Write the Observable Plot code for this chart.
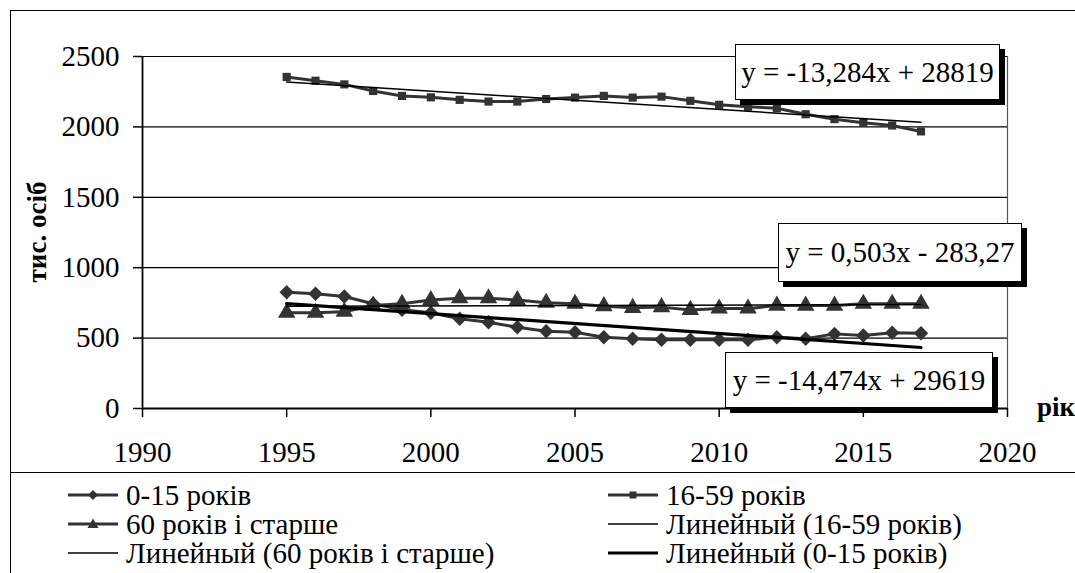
<!DOCTYPE html>
<html><head><meta charset="utf-8">
<script src="https://cdn.jsdelivr.net/npm/d3@7"></script>
<script src="https://cdn.jsdelivr.net/npm/@observablehq/plot@0.6"></script>
<style>
html,body{margin:0;padding:0;background:#fff;}
body{width:1075px;height:573px;overflow:hidden;position:relative;font-family:"Liberation Serif","Times New Roman",Tinos,"DejaVu Serif",Times,serif;color:#000;}
#frame{position:absolute;left:10px;top:10px;width:1200px;height:700px;border:1.5px solid #000;box-sizing:border-box;}
#sep{position:absolute;left:10px;top:472px;width:1100px;height:0;border-top:1.5px solid #000;}
#chart{position:absolute;left:0;top:0;}
#chart svg text{font-family:"Liberation Serif","Times New Roman",Tinos,"DejaVu Serif",Times,serif !important;}
.eq{position:absolute;background:#fff;border:1.5px solid #000;box-shadow:5px 5px 0 #000;font-size:29px;line-height:1;display:flex;align-items:center;justify-content:center;white-space:nowrap;box-sizing:border-box;}
.ylab{position:absolute;left:37px;top:232px;transform:translate(-50%,-50%) rotate(-90deg);font-weight:bold;font-size:27px;white-space:nowrap;}
.xlab{position:absolute;left:1037px;top:392px;font-weight:bold;font-size:27px;white-space:nowrap;}
.leg{position:absolute;display:flex;align-items:center;font-size:29px;line-height:1;white-space:nowrap;}
.leg svg{margin-right:8px;}
</style>
</head><body>
<div id="frame"></div>
<div id="sep"></div>
<div id="chart"></div>
<div class="ylab">тис. осіб</div>
<div class="xlab">рік</div>
<div id="legend"></div>
<div id="eqs"></div>
<script>
const years = [1995,1996,1997,1998,1999,2000,2001,2002,2003,2004,2005,2006,2007,2008,2009,2010,2011,2012,2013,2014,2015,2016,2017];
const age0_15 = [826,815,795,744,701,680,637,613,577,549,542,506,495,488,488,488,488,506,495,530,518,538,535];
const age16_59 = [2355,2328,2302,2255,2220,2210,2192,2180,2180,2198,2208,2220,2208,2215,2185,2157,2143,2133,2090,2055,2030,2010,1968];
const age60plus = [680,680,687,731,744,770,783,783,770,751,744,727,715,720,700,710,710,731,731,731,744,744,744];
const seriesNames = ["0-15 років","16-59 років","60 років і старше"];
const yTicks = [0,500,1000,1500,2000,2500];
const xTicks = [1990,1995,2000,2005,2010,2015,2020];
const equations = ["y = -13,284x + 28819","y = 0,503x - 283,27","y = -14,474x + 29619"];
const legendLabels = ["0-15 років","16-59 років","60 років і старше","Линейный (16-59 років)","Линейный (60 років і старше)","Линейный (0-15 років)"];

const seriesValues = [age0_15, age16_59, age60plus];
const table = [];
seriesNames.forEach((s,i)=>years.forEach((y,j)=>table.push({series:s, year:y, value:seriesValues[i][j]})));

const serif = "'Liberation Serif','Times New Roman',Tinos,'DejaVu Serif',Times,serif";
const lineColor = "#333";
const symbols = {"0-15 років":"diamond2","16-59 років":"square","60 років і старше":"triangle"};
const sizes = {"0-15 років":6.5,"16-59 років":4.6,"60 років і старше":6.5};

const marks = [
  Plot.ruleY(yTicks.slice(1), {stroke:"#000", strokeWidth:1.2}),
  Plot.ruleX([2020], {stroke:"#555", strokeWidth:1.2}),
  Plot.axisY({ticks:yTicks, tickSize:9, tickPadding:14, tickFormat:d=>String(d), label:null, fontSize:29, fontFamily:serif, strokeWidth:1.5}),
  Plot.axisX({ticks:xTicks, tickSize:9, tickPadding:24, tickFormat:d=>String(d), label:null, fontSize:29, fontFamily:serif, strokeWidth:1.5}),
  Plot.ruleX([1990], {stroke:"#000", strokeWidth:1.8}),
  Plot.ruleY([0], {stroke:"#000", strokeWidth:1.8}),
];
seriesNames.forEach(s=>{
  marks.push(Plot.line(table, {filter:d=>d.series===s, x:"year", y:"value", stroke:lineColor, strokeWidth:3}));
});
seriesNames.forEach(s=>{
  marks.push(Plot.dot(table, {filter:d=>d.series===s, x:"year", y:"value", symbol:()=>symbols[s], fill:lineColor, stroke:"none", r:sizes[s]}));
});
marks.push(Plot.linearRegressionY(table, {filter:d=>d.series==="16-59 років", x:"year", y:"value", stroke:"#000", strokeWidth:1.5, ci:0}));
marks.push(Plot.linearRegressionY(table, {filter:d=>d.series==="60 років і старше", x:"year", y:"value", stroke:"#000", strokeWidth:1.5, ci:0}));
marks.push(Plot.linearRegressionY(table, {filter:d=>d.series==="0-15 років", x:"year", y:"value", stroke:"#000", strokeWidth:3.2, ci:0}));

const chart = Plot.plot({
  width:1075, height:473,
  marginLeft:142, marginRight:68, marginTop:56, marginBottom:65,
  x:{domain:[1990,2020]},
  y:{domain:[0,2500]},
  symbol:{type:"identity"},
  style:{fontFamily:serif, fontSize:"29px", color:"#000", background:"transparent", overflow:"visible"},
  marks
});
document.getElementById("chart").appendChild(chart);

// equation boxes
const eqBoxes = [
  {left:735, top:44, w:265, h:56},
  {left:778, top:223, w:244, h:59},
  {left:725, top:352, w:268, h:56}
];
const eqDiv = document.getElementById("eqs");
equations.forEach((t,i)=>{
  const b = eqBoxes[i];
  const d = document.createElement("div");
  d.className = "eq";
  d.style.left = b.left+"px"; d.style.top = b.top+"px";
  d.style.width = b.w+"px"; d.style.height = b.h+"px";
  d.textContent = t;
  eqDiv.appendChild(d);
});

// legend
const legPos = [
  {x:68, y:495}, {x:608, y:495},
  {x:68, y:524}, {x:608, y:524},
  {x:68, y:553}, {x:608, y:553}
];
const legStyle = [
  {w:3, sym:"diamond"}, {w:3, sym:"square"},
  {w:3, sym:"triangle"}, {w:1.3, sym:null},
  {w:1.3, sym:null}, {w:3.2, sym:null, color:"#000"}
];
const legDiv = document.getElementById("legend");
legendLabels.forEach((t,i)=>{
  const p = legPos[i], st = legStyle[i];
  const d = document.createElement("div");
  d.className = "leg";
  d.style.left = p.x+"px"; d.style.top = (p.y-15)+"px"; d.style.height="30px";
  const col = st.color || (st.sym ? lineColor : "#000");
  let sym = "";
  if (st.sym==="diamond") sym = '<path d="M25,10 L30,15 L25,20 L20,15Z" fill="'+lineColor+'"/>';
  if (st.sym==="square") sym = '<rect x="21.5" y="11.5" width="7" height="7" fill="'+lineColor+'"/>';
  if (st.sym==="triangle") sym = '<path d="M25,9.5 L30.5,19 L19.5,19Z" fill="'+lineColor+'"/>';
  d.innerHTML = '<svg width="50" height="30"><line x1="0" x2="50" y1="15" y2="15" stroke="'+col+'" stroke-width="'+st.w+'"/>'+sym+'</svg><span>'+t+'</span>';
  legDiv.appendChild(d);
});
</script>
</body></html>
